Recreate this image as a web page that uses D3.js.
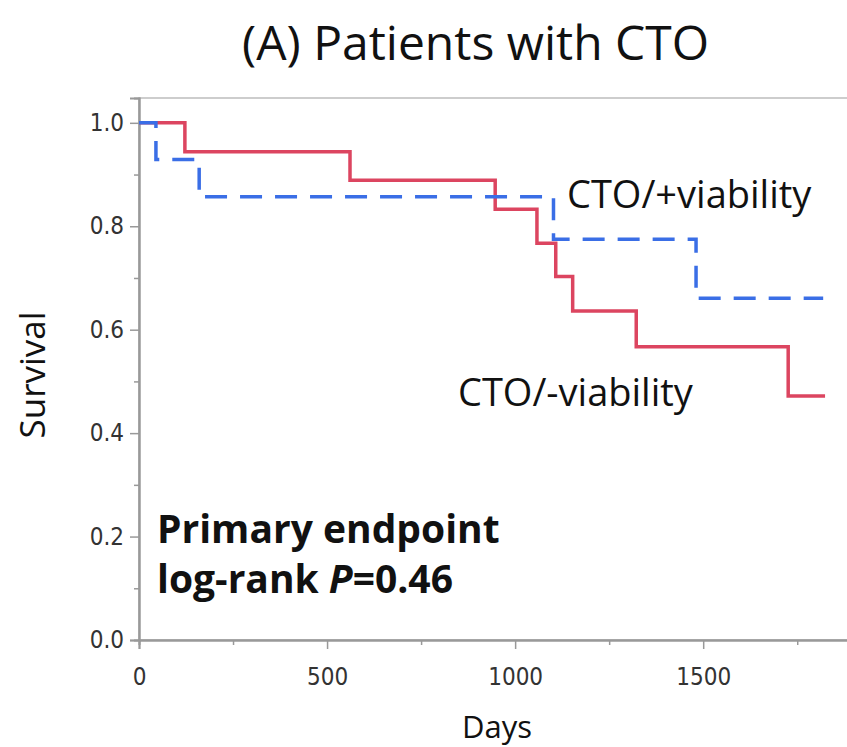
<!DOCTYPE html>
<html>
<head>
<meta charset="utf-8">
<script src="https://d3js.org/d3.v7.min.js"></script>
<style>
body { margin: 0; background: #fff; }
.tick text { font-family: "DejaVu Sans Condensed", "DejaVu Sans", sans-serif; font-stretch: condensed; fill: #333; }
.lbl { font-family: "Open Sans", sans-serif; fill: #111; }
</style>
</head>
<body>
<script>
// Kaplan-Meier steps
var redDays  = [0, 122, 561, 947, 1058, 1108, 1153, 1322, 1726, 1824];
var redSurv  = [1, 0.944, 0.889, 0.833, 0.767, 0.703, 0.636, 0.567, 0.472, 0.472];
var blueDays = [0, 45, 160, 1102, 1481, 1819];
var blueSurv = [1, 0.929, 0.857, 0.775, 0.661, 0.661];
var xTicks = [0, 500, 1000, 1500];
var xMinor = [250, 750, 1250, 1750];
var yTicks = [0, 0.2, 0.4, 0.6, 0.8, 1.0];
var yMinor = [0.1, 0.3, 0.5, 0.7, 0.9];

var width = 847, height = 747;
var svg = d3.select("body").append("svg")
  .attr("width", width).attr("height", height);

var x = d3.scaleLinear().domain([0, 1885]).range([139, 848]);
var y = d3.scaleLinear().domain([0, 1.048]).range([640, 98]);

// frame
svg.append("rect")
  .attr("x", x(0)).attr("y", y(1.048))
  .attr("width", x(1885) - x(0)).attr("height", y(0) - y(1.048))
  .attr("fill", "none").attr("stroke", "#bdbdbd").attr("stroke-width", 1.5);

// axes
svg.append("g").attr("transform", "translate(0," + y(0) + ")")
  .call(d3.axisBottom(x).tickValues(xTicks).tickSize(9).tickPadding(19).tickFormat(d3.format("d")));
svg.append("g").attr("transform", "translate(0," + y(0) + ")")
  .call(d3.axisBottom(x).tickValues(xMinor).tickSize(5).tickFormat(""));
svg.append("g").attr("transform", "translate(" + x(0) + ",0)")
  .call(d3.axisLeft(y).tickValues(yTicks).tickSize(9).tickPadding(6).tickFormat(d3.format(".1f")));
svg.append("g").attr("transform", "translate(" + x(0) + ",0)")
  .call(d3.axisLeft(y).tickValues(yMinor).tickSize(5).tickFormat(""));
svg.selectAll(".domain").attr("stroke", "#999").attr("stroke-width", 2);
svg.selectAll(".tick line").attr("stroke", "#999").attr("stroke-width", 1.5);
svg.selectAll(".tick text").attr("font-size", 24);

// survival curves
var line = d3.line().x(d => x(d[0])).y(d => y(d[1])).curve(d3.curveStepAfter);
svg.append("path")
  .datum(redDays.map((d, i) => [d, redSurv[i]]))
  .attr("d", line).attr("fill", "none")
  .attr("stroke", "#dc4560").attr("stroke-width", 3.5);
svg.append("path")
  .datum(blueDays.map((d, i) => [d, blueSurv[i]]))
  .attr("d", line).attr("fill", "none")
  .attr("stroke", "#3a6ee6").attr("stroke-width", 3.5)
  .attr("stroke-dasharray", "22,13");

// texts
svg.append("text").attr("class", "lbl").attr("x", 242).attr("y", 60)
  .attr("font-size", 48).text("(A) Patients with CTO");
svg.append("text").attr("class", "lbl").attr("x", 497).attr("y", 738)
  .attr("text-anchor", "middle").attr("font-size", 31).text("Days");
svg.append("text").attr("class", "lbl")
  .attr("transform", "translate(45,375) rotate(-90)")
  .attr("text-anchor", "middle").attr("font-size", 35).text("Survival");
svg.append("text").attr("class", "lbl").attr("x", 567).attr("y", 208)
  .attr("font-size", 38).text("CTO/+viability");
svg.append("text").attr("class", "lbl").attr("x", 458).attr("y", 406)
  .attr("font-size", 38).text("CTO/-viability");
svg.append("text").attr("class", "lbl").attr("x", 157).attr("y", 543)
  .attr("font-size", 39).attr("font-weight", "bold").text("Primary endpoint");
var t2 = svg.append("text").attr("class", "lbl").attr("x", 157).attr("y", 593)
  .attr("font-size", 39).attr("font-weight", "bold");
t2.append("tspan").text("log-rank ");
t2.append("tspan").attr("font-style", "italic").text("P");
t2.append("tspan").text("=0.46");
</script>
</body>
</html>
